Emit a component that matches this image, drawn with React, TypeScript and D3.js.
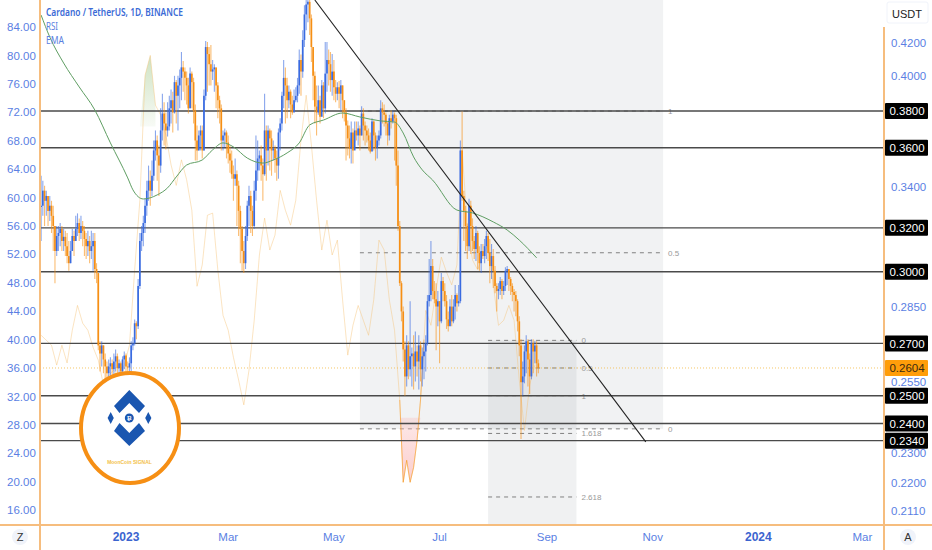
import * as d3 from 'd3';

// daily candles, first one is 13 Nov 2022, prices in 1/10000 USDT
const firstDay = new Date(2022, 10, 13);
const firstOpen = 3300;
const closes = [
  3306, 3380, 3330, 3354, 3281, 3306, 3257, 3209, 3093, 3162,
  3176, 3195, 3139, 3158, 3115, 3070, 3038, 3093, 3162, 3139,
  3195, 3223, 3176, 3209, 3186, 3148, 3115, 3139, 3093, 3115,
  3139, 3012, 2994, 2692, 2660, 2692, 2637, 2610, 2584, 2610,
  2622, 2599, 2629, 2649, 2603, 2622, 2591, 2637, 2652, 2610,
  2606, 2622, 2692, 2700, 2781, 2769, 2938, 3139, 3176, 3223,
  3306, 3380, 3430, 3380, 3455, 3586, 3639, 3560, 3507, 3693,
  3786, 3731, 3693, 3715, 3815, 3861, 3792, 3965, 3886, 3946,
  3990, 4052, 4027, 3990, 3946, 3815, 4015, 3965, 3803, 3639,
  3586, 3666, 3693, 3586, 3886, 4175, 4132, 4071, 4027, 4040,
  4052, 3946, 3861, 3815, 3639, 3666, 3682, 3628, 3570, 3533,
  3463, 3440, 3463, 3405, 3281, 3195, 3093, 3038, 3162, 3306,
  3354, 3281, 3209, 3380, 3482, 3544, 3560, 3507, 3463, 3693,
  3586, 3693, 3650, 3586, 3596, 3544, 3507, 3682, 3731, 3886,
  3990, 3946, 3861, 3910, 3837, 3792, 3861, 3886, 3946, 4096,
  4027, 4219, 4380, 4445, 4462, 4355, 4175, 4002, 3825, 3792,
  3861, 3768, 3946, 3815, 4015, 4096, 4071, 3977, 4027, 3935,
  3898, 3935, 3898, 3946, 3861, 3792, 3720, 3650, 3596, 3682,
  3586, 3693, 3666, 3704, 3666, 3786, 3720, 3693, 3666, 3639,
  3580, 3742, 3666, 3602, 3639, 3666, 3815, 3792, 3780, 3731,
  3666, 3760, 3742, 3780, 3760, 3507, 3209, 2950, 2830, 2676,
  2572, 2692, 2599, 2649, 2660, 2610, 2668, 2629, 2692, 2599,
  2649, 2668, 2700, 2873, 2899, 3025, 2916, 2881, 2850, 2873,
  2789, 2959, 2916, 2873, 2797, 2769, 2850, 2789, 2850, 2899,
  2864, 2873, 3586, 3354, 3281, 3209, 3115, 3306, 3209, 3139,
  3102, 3176, 3084, 3038, 3093, 3070, 3115, 3162, 3084, 3025,
  3070, 3004, 2938, 2916, 2925, 2959, 2916, 2938, 3004, 3012,
  2968, 2938, 2912, 2899, 2873, 2789, 2692, 2550, 2572, 2668,
  2708, 2637, 2572, 2700, 2668, 2692, 2622, 2604,
];
const highs = [
  3455, 3430, 3405, 3380, 3354, 3354, 3330, 3306, 3209, 3209,
  3209, 3223, 3209, 3195, 3186, 3176, 3139, 3139, 3195, 3186,
  3257, 3269, 3245, 3257, 3233, 3209, 3176, 3186, 3162, 3186,
  3176, 3176, 3038, 2994, 2708, 2708, 2692, 2660, 2629, 2637,
  2645, 2637, 2660, 2676, 2660, 2637, 2629, 2649, 2668, 2660,
  2629, 2645, 2708, 2724, 2797, 2789, 2968, 3176, 3209, 3257,
  3340, 3430, 3507, 3482, 3533, 3639, 3693, 3666, 3612, 3815,
  3898, 3849, 3792, 3849, 3886, 3923, 3910, 4002, 3977, 4002,
  4040, 4145, 4090, 4052, 4027, 3990, 4052, 4027, 3990, 3837,
  3720, 3693, 3720, 3720, 3923, 4212, 4206, 4175, 4188, 4096,
  4071, 4052, 3965, 3886, 3837, 3693, 3704, 3693, 3666, 3612,
  3586, 3507, 3544, 3482, 3430, 3306, 3209, 3139, 3209, 3330,
  3405, 3380, 3306, 3430, 3666, 3639, 3586, 3612, 3544, 3898,
  3720, 3720, 3704, 3693, 3639, 3612, 3586, 3704, 3760, 3910,
  4096, 4052, 3990, 3946, 3923, 3886, 3923, 3935, 3990, 4160,
  4130, 4280, 4440, 4474, 4474, 4474, 4380, 4162, 4027, 3946,
  3946, 3886, 3977, 3965, 4206, 4206, 4160, 4145, 4132, 4096,
  3977, 3965, 3971, 3977, 3946, 3861, 3815, 3748, 3720, 3742,
  3704, 3742, 3742, 3742, 3720, 3827, 3815, 3742, 3720, 3704,
  3682, 3760, 3748, 3682, 3666, 3693, 3861, 3849, 3837, 3792,
  3742, 3780, 3803, 3803, 3792, 3780, 3586, 3233, 2959, 2850,
  2708, 2732, 2708, 2873, 2684, 2732, 2748, 2692, 2732, 2708,
  2684, 2700, 2732, 2899, 3057, 3139, 3057, 2959, 2950, 2916,
  2873, 2994, 2977, 2950, 2899, 2830, 2881, 2899, 2881, 2942,
  2907, 2942, 3639, 3797, 3380, 3306, 3221, 3340, 3330, 3245,
  3162, 3209, 3186, 3115, 3125, 3125, 3148, 3186, 3176, 3148,
  3125, 3102, 3025, 2950, 2950, 2977, 2968, 2959, 3020, 3025,
  3012, 2977, 2950, 2925, 2916, 2881, 2810, 2716, 2629, 2692,
  2732, 2716, 2660, 2716, 2716, 2708, 2708, 2637,
];
const lows = [
  3139, 3257, 3209, 3257, 3209, 3233, 3176, 3093, 2950, 3070,
  3093, 3115, 3093, 3093, 3070, 3038, 3004, 3038, 3093, 3070,
  3139, 3162, 3139, 3148, 3115, 3070, 3057, 3070, 3038, 3057,
  3004, 2968, 2950, 2673, 2591, 2610, 2584, 2553, 2546, 2561,
  2572, 2561, 2572, 2591, 2561, 2568, 2553, 2572, 2599, 2584,
  2572, 2584, 2591, 2673, 2692, 2716, 2758, 2925, 3093, 3115,
  3176, 3257, 3330, 3306, 3354, 3430, 3533, 3430, 3354, 3470,
  3639, 3612, 3591, 3660, 3693, 3731, 3682, 3786, 3731, 3693,
  3815, 3861, 3910, 3861, 3837, 3786, 3815, 3815, 3731, 3533,
  3533, 3586, 3586, 3544, 3586, 3861, 3910, 3946, 3946, 3977,
  3910, 3815, 3760, 3731, 3586, 3586, 3602, 3544, 3518, 3470,
  3440, 3330, 3405, 3209, 3162, 3038, 3004, 2994, 3012, 3139,
  3209, 3176, 3162, 3195, 3330, 3430, 3482, 3430, 3330, 3455,
  3430, 3507, 3482, 3455, 3533, 3470, 3430, 3440, 3586, 3693,
  3815, 3731, 3760, 3815, 3760, 3780, 3815, 3849, 3849, 3898,
  3886, 3990, 4175, 4280, 4330, 4250, 4084, 3861, 3731, 3666,
  3780, 3731, 3815, 3760, 3786, 3910, 3946, 3910, 3886, 3861,
  3849, 3861, 3815, 3803, 3760, 3742, 3533, 3560, 3544, 3518,
  3518, 3628, 3639, 3612, 3586, 3666, 3639, 3612, 3628, 3586,
  3570, 3602, 3586, 3533, 3544, 3612, 3650, 3731, 3715, 3666,
  3612, 3639, 3704, 3731, 3533, 3405, 3186, 2938, 2789, 2629,
  2500, 2534, 2561, 2572, 2534, 2523, 2553, 2572, 2523, 2553,
  2534, 2561, 2591, 2692, 2850, 2873, 2881, 2864, 2673, 2769,
  2622, 2781, 2873, 2850, 2758, 2748, 2781, 2769, 2781, 2797,
  2830, 2850, 2864, 3330, 3139, 3093, 3057, 3093, 3079, 3093,
  3057, 3048, 3012, 3004, 2994, 3057, 3038, 3057, 3048, 2950,
  2968, 2929, 2907, 2830, 2881, 2899, 2881, 2899, 2916, 2942,
  2916, 2899, 2873, 2830, 2810, 2748, 2649, 2346, 2500, 2546,
  2584, 2534, 2506, 2561, 2584, 2622, 2572, 2584,
];

// RSI read every third day, left axis
const rsiEvery = 3;
const rsi = [
  40.6, 39.9, 39.2, 36.4, 39.2, 36.7, 41.3, 44.8, 42.3, 41.3,
  38.9, 37.1, 33.6, 35.0, 35.7, 34.6, 36.4, 39.2, 49.8, 59.6,
  77.2, 80.0, 73.0, 71.6, 68.8, 64.6, 61.7, 65.3, 62.5, 58.2,
  47.5, 50.5, 57.5, 57.8, 49.8, 43.4, 41.3, 37.5, 34.3, 30.8,
  35.7, 42.7, 51.9, 57.1, 52.6, 54.7, 61.0, 58.2, 56.1, 59.6,
  68.1, 74.4, 67.4, 59.6, 52.6, 56.8, 51.9, 54.0, 45.6, 37.8,
  42.0, 44.8, 42.7, 40.6, 45.6, 54.0, 52.6, 45.6, 41.3, 35.5,
  20.2, 20.5, 25.8, 32.9, 44.1, 42.0, 47.0, 51.6, 49.5, 47.7,
  50.5, 66.7, 56.1, 51.2, 49.8, 51.9, 53.3, 47.7, 42.0, 42.7,
  44.8, 42.7, 34.3, 27.2, 33.6, 36.4,
];
// the June dip has two bottoms, read day by day
const dipDays = [207, 209, 211, 213, 215, 217, 219, 221];
const dipRsi = [31.5, 19.9, 23.0, 19.9, 22.0, 25.8, 31.5, 40.0];

const emaDays = [0, 5, 13, 22, 31, 40, 50, 53, 59, 67, 73, 78, 84, 93, 99, 105, 111, 119, 128, 134, 142, 149, 155, 163, 174, 184, 196, 204, 209, 215, 220, 226, 240, 249, 261, 269, 276, 286];
const emaValues = [4376, 4237, 4078, 3937, 3806, 3626, 3444, 3384, 3339, 3359, 3394, 3449, 3510, 3536, 3589, 3626, 3605, 3546, 3520, 3536, 3573, 3626, 3723, 3750, 3789, 3767, 3745, 3739, 3679, 3552, 3485, 3433, 3285, 3271, 3228, 3190, 3143, 3062];

const levels = [0.38, 0.36, 0.32, 0.3, 0.27, 0.25, 0.24, 0.234];
const priceTicks = [0.42, 0.4, 0.34, 0.285, 0.255, 0.23, 0.22, 0.211];
const rsiTicks = [84, 80, 76, 72, 68, 64, 60, 56, 52, 48, 44, 40, 36, 32, 28, 24, 20, 16];
const lastPrice = 0.2604;
const timeTicks: [Date, string, boolean][] = [
  [new Date(2023, 0, 1), '2023', true],
  [new Date(2023, 2, 1), 'Mar', false],
  [new Date(2023, 4, 1), 'May', false],
  [new Date(2023, 6, 1), 'Jul', false],
  [new Date(2023, 8, 1), 'Sep', false],
  [new Date(2023, 10, 1), 'Nov', false],
  [new Date(2024, 0, 1), '2024', true],
  [new Date(2024, 2, 1), 'Mar', false],
];

// fib tools and the trend line
const wideFibStart = new Date(2023, 4, 16);
const wideFibEnd = new Date(2023, 10, 7);
const wideFib: [string, number][] = [['1', 0.38], ['0.5', 0.3085], ['0', 0.2381]];
const smallFibStart = new Date(2023, 6, 29);
const smallFibEnd = new Date(2023, 8, 18);
const smallFib: [string, number][] = [['0', 0.2712], ['0.5', 0.2604], ['1', 0.25], ['1.618', 0.2365], ['2.618', 0.2154]];
const trendDates = [new Date(2023, 3, 20), new Date(2023, 9, 28)];
const trendPrices = [0.4474, 0.2336];

const BLUE = '#3a6be0';
const ORANGE = '#f68f14';
const AXIS_ORANGE = '#f6bd7e';
const TICK_BLUE = '#5b7fe3';
const FONT = '"Liberation Sans", Arial, sans-serif';

const left = 40;
const right = 884;
const bottom = 525;

const x = d3.scaleTime().domain([new Date(2023, 0, 1), new Date(2023, 8, 1)]).range([126, 547]);
const y = d3.scaleLog().domain([0.42, 0.211]).range([43, 511]);
const yRsi = d3.scaleLinear().domain([84, 16]).range([27, 510]);

const dayX = (i: number) => x(d3.timeDay.offset(firstDay, i));

type RsiPoint = { day: number; v: number };
const dipPts: RsiPoint[] = dipDays.map((day, i) => ({ day, v: dipRsi[i] }));
const rsiPts: RsiPoint[] = rsi
  .map((v, i) => ({ day: i * rsiEvery, v }))
  .filter((d) => d.day < dipDays[0] || d.day > dipDays[dipDays.length - 1])
  .concat(dipPts)
  .sort((a, b) => a.day - b.day);
const springPts = rsi.slice(18, 23).map((v, i) => ({ day: (i + 18) * rsiEvery, v }));

const rsiLine = d3.line<RsiPoint>().x((d) => dayX(d.day)).y((d) => yRsi(d.v));
const emaLine = d3.line<number>().x((_, i) => dayX(emaDays[i])).y((d) => y(d / 10000)).curve(d3.curveMonotoneX);
const greenArea = d3.area<RsiPoint>().x((d) => dayX(d.day)).y0(yRsi(70)).y1((d) => yRsi(Math.max(d.v, 70)));
const redArea = d3.area<RsiPoint>().x((d) => dayX(d.day)).y0(yRsi(29)).y1((d) => yRsi(Math.min(d.v, 29)));

function PriceTag({ price, fill, color }: { price: number; fill: string; color: string }) {
  return (
    <g>
      <rect x={right + 1} y={y(price) - 8} width={43} height={16} rx={1} fill={fill} />
      <text x={907} y={y(price) + 4.2} textAnchor="middle" fontSize={11.5} fill={color} fontFamily={FONT}>
        {price.toFixed(4)}
      </text>
    </g>
  );
}

function FibTool({ start, end, items, labelX }: { start: Date; end: Date; items: [string, number][]; labelX: number }) {
  return (
    <g>
      {items.map(([label, price]) => (
        <g key={label}>
          <line x1={x(start)} x2={x(end)} y1={y(price)} y2={y(price)} stroke="#808080" strokeWidth={1} strokeDasharray="4 4" />
          <text x={x(end) + labelX} y={y(price) + 3} fontSize={8} fill="#999" fontFamily={FONT}>{label}</text>
        </g>
      ))}
    </g>
  );
}

function Logo() {
  return (
    <g>
      <ellipse cx={130} cy={428} rx={49} ry={55} fill="#fff" stroke={ORANGE} strokeWidth={4} />
      <g fill="#1a56b0">
        <polygon points="129.3,390 145,406 139,413 129.3,403 119.5,413 114,406" />
        <polygon points="129.3,446 145,431 139,423 129.3,433 119.5,423 114,431" />
        <circle cx={129.3} cy={418} r={4.5} />
        <polygon points="110.7,412 113.8,418 110.7,424 107.6,418" />
        <polygon points="148.3,412 151.4,418 148.3,424 145.2,418" />
      </g>
      <text x={129.3} y={420} textAnchor="middle" fontSize={6} fontWeight="bold" fill="#fff" fontFamily={FONT}>₿</text>
      <text x={129.5} y={464} textAnchor="middle" fontSize={5} fontWeight="bold" fill="#f3c14b" fontFamily={FONT}>MoonCoin SIGNAL</text>
    </g>
  );
}

export default function App() {
  const wideX0 = x(wideFibStart);
  const wideX1 = x(wideFibEnd);
  const smallX0 = x(smallFibStart);
  const smallX1 = x(smallFibEnd);

  return (
    <svg width={932} height={550} style={{ position: 'fixed', left: 0, top: 0, background: '#fff' }}>
      <defs>
        <clipPath id="plot"><rect x={left} y={0} width={right - left} height={bottom} /></clipPath>
        <linearGradient id="greenFade" gradientUnits="userSpaceOnUse" x1={0} x2={0} y1={yRsi(80)} y2={yRsi(70)}>
          <stop offset="0" stopColor="#b5d3a2" stopOpacity={0.65} />
          <stop offset="1" stopColor="#b5d3a2" stopOpacity={0.1} />
        </linearGradient>
        <linearGradient id="redFade" gradientUnits="userSpaceOnUse" x1={0} x2={0} y1={yRsi(29)} y2={yRsi(20)}>
          <stop offset="0" stopColor="#f9b4b4" stopOpacity={0.3} />
          <stop offset="1" stopColor="#f9b4b4" stopOpacity={0.65} />
        </linearGradient>
      </defs>
      <g clipPath="url(#plot)">
        {/* long and short boxes */}
        <rect x={wideX0} y={0} width={wideX1 - wideX0} height={y(0.2381)} fill="#787b86" fillOpacity={0.1} />
        <rect x={smallX0} y={y(0.2712)} width={smallX1 - smallX0} height={bottom - y(0.2712)} fill="#787b86" fillOpacity={0.11} />
        <FibTool start={wideFibStart} end={wideFibEnd} items={wideFib} labelX={5} />
        <FibTool start={smallFibStart} end={smallFibEnd} items={smallFib} labelX={5} />

        {/* rsi */}
        <path d={greenArea(springPts) ?? ''} fill="url(#greenFade)" />
        <path d={redArea(dipPts) ?? ''} fill="url(#redFade)" />
        <path d={rsiLine(rsiPts) ?? ''} fill="none" stroke="#f6bf6e" strokeOpacity={0.42} strokeWidth={1} />
        <path d={rsiLine(dipPts) ?? ''} fill="none" stroke={ORANGE} strokeOpacity={0.5} strokeWidth={1} />

        {levels.map((p) => (
          <line key={p} x1={left} x2={right} y1={y(p)} y2={y(p)} stroke="#4a4a4a" strokeWidth={1.4} />
        ))}
        <line x1={left} x2={right} y1={y(lastPrice)} y2={y(lastPrice)} stroke="#f4b942" strokeOpacity={0.8} strokeWidth={1} strokeDasharray="1 2" />

        {/* candles */}
        {closes.map((c, i) => {
          const open = i === 0 ? firstOpen : closes[i - 1];
          const color = c >= open ? BLUE : ORANGE;
          const cx = dayX(i);
          return (
            <g key={i}>
              <line x1={cx} x2={cx} y1={y(highs[i] / 10000)} y2={y(lows[i] / 10000)} stroke={color} strokeOpacity={0.6} strokeWidth={1.1} />
              <line x1={cx} x2={cx} y1={y(Math.max(open, c) / 10000)} y2={y(Math.min(open, c) / 10000)} stroke={color} strokeWidth={1.7} />
            </g>
          );
        })}

        <path d={emaLine(emaValues) ?? ''} fill="none" stroke="#5f9e63" strokeWidth={1} />
        <line x1={x(trendDates[0])} x2={x(trendDates[1])} y1={y(trendPrices[0])} y2={y(trendPrices[1])} stroke="#222" strokeWidth={1.1} />
      </g>

      <Logo />

      {/* legend */}
      <text x={46} y={16} fontSize={10.5} fontWeight={600} fill="#3b6bd6" fontFamily="'Noto Sans', sans-serif" textLength={137} lengthAdjust="spacingAndGlyphs">Cardano / TetherUS, 1D, BINANCE</text>
      <text x={46} y={30} fontSize={10.5} fill="#5a80e0" fontFamily="'Noto Sans', sans-serif" textLength={12} lengthAdjust="spacingAndGlyphs">RSI</text>
      <text x={46} y={44} fontSize={10.5} fill="#5a80e0" fontFamily="'Noto Sans', sans-serif" textLength={18} lengthAdjust="spacingAndGlyphs">EMA</text>

      {/* axes */}
      <line x1={left} x2={left} y1={0} y2={550} stroke={AXIS_ORANGE} strokeWidth={2} />
      <line x1={right} x2={right} y1={27} y2={550} stroke={AXIS_ORANGE} strokeWidth={2} />
      <line x1={0} x2={932} y1={bottom} y2={bottom} stroke={AXIS_ORANGE} strokeWidth={2} />

      {rsiTicks.map((v) => (
        <text key={v} x={7} y={yRsi(v) + 4.2} fontSize={11.5} fill={TICK_BLUE} fontFamily={FONT}>{v.toFixed(2)}</text>
      ))}
      {priceTicks.map((p) => (
        <text key={p} x={891} y={y(p) + 4.2} fontSize={11.5} fill={TICK_BLUE} fontFamily={FONT}>{p.toFixed(4)}</text>
      ))}
      {timeTicks.map(([d, label, bold]) => (
        <text key={label + d.getFullYear()} x={x(d)} y={541} textAnchor="middle" fontSize={bold ? 12 : 11.5} fontWeight={bold ? 'bold' : 'normal'} fill={bold ? '#3b64cf' : TICK_BLUE} fontFamily={FONT}>{label}</text>
      ))}

      {levels.map((p) => (
        <PriceTag key={p} price={p} fill="#000" color="#fff" />
      ))}
      <PriceTag price={lastPrice} fill="#ff9d0a" color="#3a2a10" />

      <rect x={887} y={2} width={41} height={21} rx={2} fill="#fff" stroke="#f0f3fa" />
      <text x={907} y={18} textAnchor="middle" fontSize={11} fill="#222" fontFamily={FONT}>USDT</text>

      <circle cx={20} cy={537} r={8} fill="#f0f3fa" />
      <text x={20} y={541} textAnchor="middle" fontSize={11} fill="#333" fontFamily={FONT}>Z</text>
      <circle cx={908} cy={537} r={8} fill="#f0f3fa" />
      <text x={908} y={541} textAnchor="middle" fontSize={11} fill="#333" fontFamily={FONT}>A</text>
    </svg>
  );
}
